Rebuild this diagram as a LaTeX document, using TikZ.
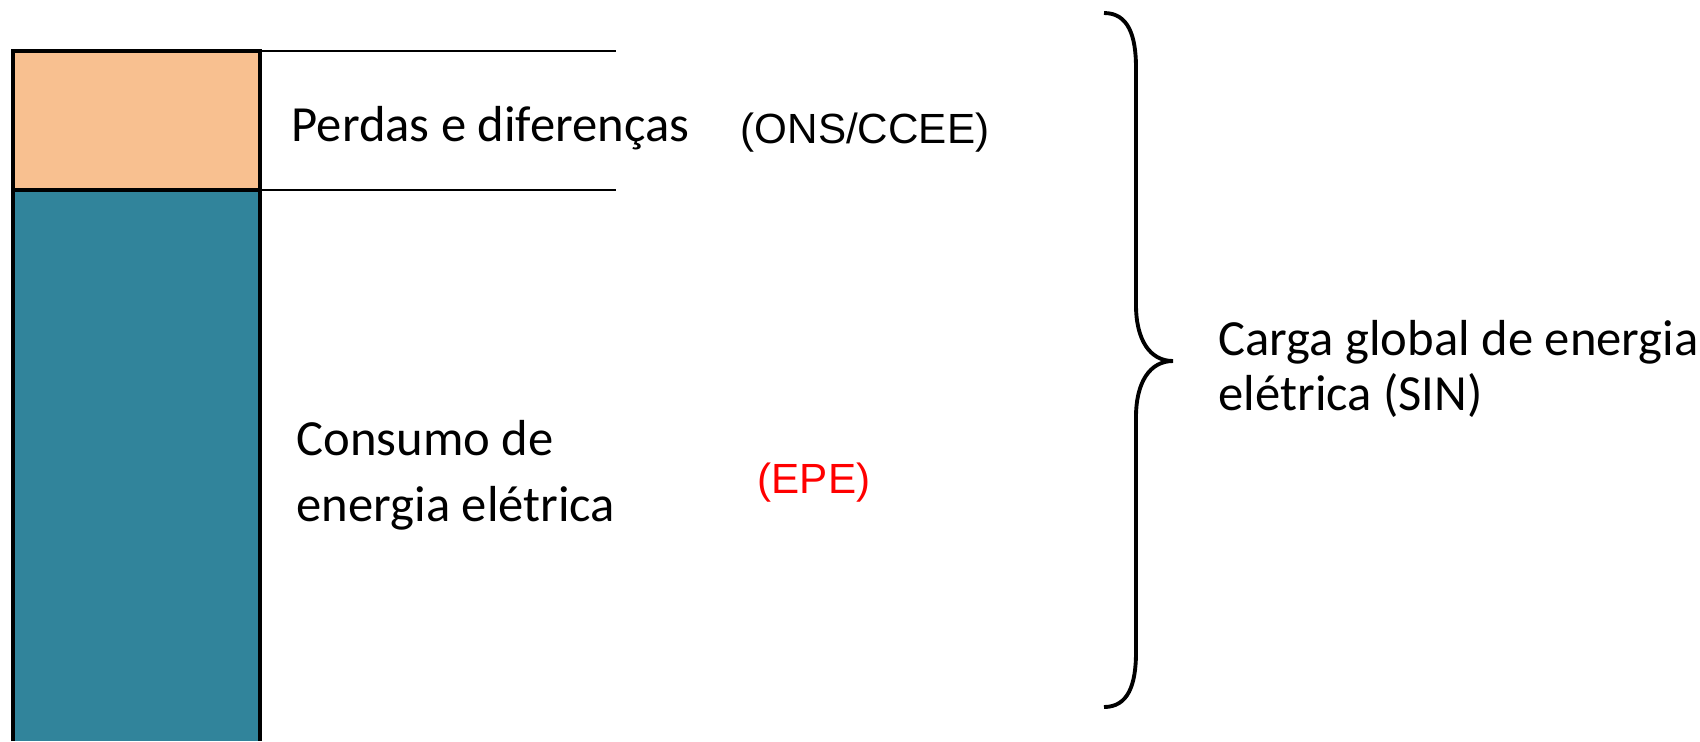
\documentclass[tikz,border=0pt]{standalone}
\usepackage{fontspec}
\setmainfont{Carlito}
\newfontfamily\arialfont{Liberation Sans}
\definecolor{perdascor}{HTML}{F8C090}
\definecolor{consumocor}{HTML}{31849B}
\tikzset{
  rotulo/.style={anchor=base west, inner sep=0pt, align=left},
  fonte/.style={anchor=base west, inner sep=0pt, font=\arialfont\fontsize{12}{14}\selectfont}
}
\begin{document}
\begin{tikzpicture}[x=0.01cm,y=-0.01cm]
  \useasboundingbox (0,0) rectangle (1700,741);
  \coordinate (A) at (13,51);
  \coordinate (B) at (260,51);
  \coordinate (C) at (13,190);
  \coordinate (D) at (260,190);
  \coordinate (E) at (13,741);
  \coordinate (F) at (260,741);
  \coordinate (G) at (616,51);
  \coordinate (H) at (616,190);
  \coordinate (T) at (1104,13);
  \coordinate (M) at (1173,361);
  \coordinate (U) at (1104,707);
  %Bars
  \fill[perdascor] (A) rectangle (D);
  \fill[consumocor] (C) rectangle (F);
  \draw[line width=0.9pt] (E)--(A)--(B)--(F);
  \draw[line width=0.9pt] (C)--(D);
  \draw[line width=0.8pt] (B)--(G);
  \draw[line width=0.8pt] (D)--(H);
  %Labels
  \node[rotulo, font=\fontsize{14.4}{16}\selectfont] (perdas) at (291,141) {Perdas e diferenças};
  \node[fonte] (ons) at (740,143) {(ONS/CCEE)};
  \node[rotulo, font=\fontsize{14.4}{18.7}\selectfont] (consumo) at (296,521) {Consumo de\\energia elétrica};
  \node[fonte, text=red] (epe) at (757,493) {(EPE)};
  %Brace
  \draw[line width=1.1pt] (T) .. controls (1128,13) and (1136,35) .. (1136,68)
    -- (1136,305) .. controls (1136,340) and (1150,361) .. (M)
    .. controls (1150,361) and (1136,382) .. (1136,417)
    -- (1136,652) .. controls (1136,685) and (1128,707) .. (U);
  \node[rotulo, font=\fontsize{14.4}{15.6}\selectfont] (carga) at (1218,410) {Carga global de energia\\elétrica (SIN)};
\end{tikzpicture}
\end{document}
